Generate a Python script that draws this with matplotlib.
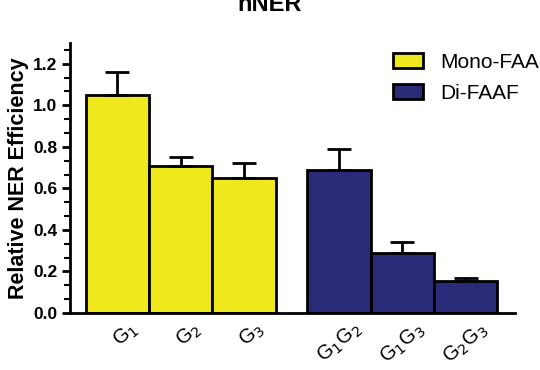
import numpy as np
import matplotlib
matplotlib.use('Agg')
import matplotlib.pyplot as plt
import matplotlib.transforms as mtransforms
from matplotlib.patches import Patch
from matplotlib.ticker import AutoMinorLocator

plt.rcParams['font.family'] = ['Liberation Sans', 'DejaVu Sans']

labels = ['G$_1$', 'G$_2$', 'G$_3$', 'G$_1$G$_2$', 'G$_1$G$_3$', 'G$_2$G$_3$']
positions = [0, 1, 2, 3.5, 4.5, 5.5]
mono_vals = [1.05, 0.71, 0.65]
mono_err = [0.11, 0.04, 0.07]
di_vals = [0.69, 0.29, 0.155]
di_err = [0.10, 0.05, 0.015]
yellow = '#efe81c'
navy = '#2a2b78'

fig = plt.figure(figsize=(5.4, 3.7), dpi=100)
ax = fig.add_axes([0.1296, 0.154, 0.8244, 0.73])

err_kw = dict(capsize=8.5, elinewidth=2, capthick=2, ecolor='black')
ax.bar(positions[:3], mono_vals, width=1.0, color=yellow, edgecolor='black',
       linewidth=2, yerr=[[0]*3, mono_err], error_kw=err_kw, zorder=2)
ax.bar(positions[3:], di_vals, width=1.0, color=navy, edgecolor='black',
       linewidth=2, yerr=[[0]*3, di_err], error_kw=err_kw, zorder=2)

ax.set_xlim(-0.75, 6.28)
ax.set_ylim(0, 1.3)
ax.spines['top'].set_visible(False)
ax.spines['right'].set_visible(False)
ax.spines['left'].set_linewidth(2)
ax.spines['bottom'].set_linewidth(2)
ax.tick_params(axis='y', which='major', length=6, width=2, labelsize=12.5, pad=3)
ax.tick_params(axis='y', which='minor', length=4, width=1.5)
ax.tick_params(axis='x', length=0, pad=4)
ax.set_yticks(np.arange(0, 1.21, 0.2))
ax.set_yticklabels(['%.1f' % v for v in np.arange(0, 1.21, 0.2)], fontweight='bold')
ax.yaxis.set_minor_locator(AutoMinorLocator(3))
ax.set_xticks(positions)
ax.set_xticklabels(labels, rotation=40, ha='center', fontsize=14.5)
# single-G labels sit a little right of their bars in the original
shift = mtransforms.ScaledTranslation(8/100, 0, fig.dpi_scale_trans)
for lab in ax.get_xticklabels()[:3]:
    lab.set_transform(lab.get_transform() + shift)
ax.set_ylabel('Relative NER Efficiency', fontweight='bold', fontsize=15.5, labelpad=3)

fig.text(0.5, 1 - 11/370, 'nNER', fontweight='bold', fontsize=17,
         ha='center', va='baseline')

handles = [Patch(facecolor=yellow, edgecolor='black', linewidth=2, label='Mono-FAAF'),
           Patch(facecolor=navy, edgecolor='black', linewidth=2, label='Di-FAAF')]
ax.legend(handles=handles, loc='upper left', bbox_to_anchor=(0.693, 0.907),
          bbox_transform=fig.transFigure, frameon=False, fontsize=15,
          handlelength=1.45, handleheight=0.72, labelspacing=0.55, handletextpad=0.8)

fig.savefig('out.png', dpi=100)
